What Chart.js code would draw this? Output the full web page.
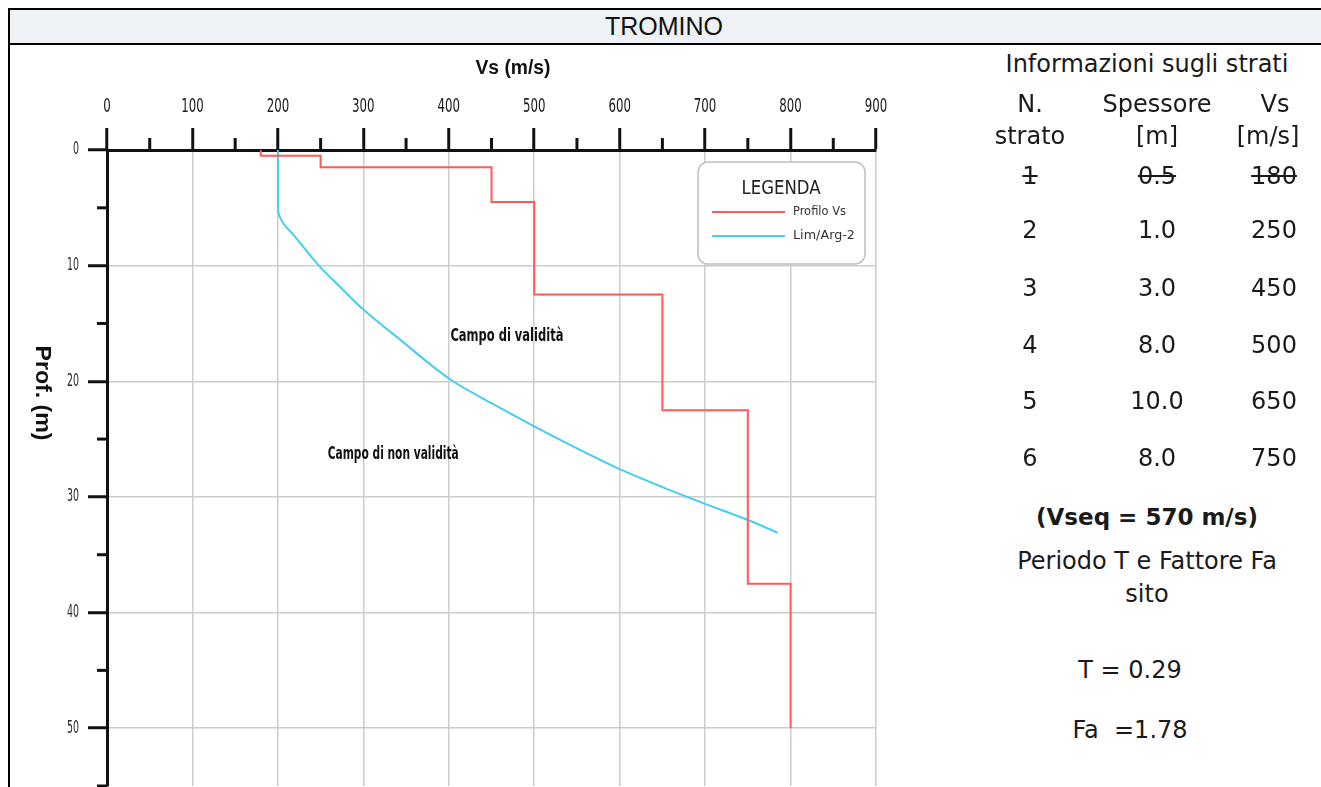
<!DOCTYPE html>
<html>
<head>
<meta charset="utf-8">
<script src="https://cdn.jsdelivr.net/npm/chart.js@4.4.1/dist/chart.umd.min.js"></script>
<style>
  html, body { margin: 0; padding: 0; background: #fff; }
  body { width: 1321px; height: 787px; position: relative; overflow: hidden; }
  .line { position: absolute; background: #000; }
  #header { position: absolute; left: 10px; top: 10px; width: 1311px; height: 33px; background: #eef2f6; }
  #header span { position: absolute; left: 0; width: 1308px; top: 2px; text-align: center;
    font-family: "Liberation Sans", sans-serif; font-size: 25px; color: #111; }
  #chart-box { position: absolute; left: 10px; top: 45px; width: 885px; height: 742px; overflow: hidden; }
  .txt { position: absolute; width: 340px; text-align: center; font-family: "DejaVu Sans", sans-serif;
    font-size: 24px; color: #1a1a1a; line-height: 28px; white-space: pre; }
  .strike { text-decoration: line-through; }
  .bold { font-weight: bold; font-size: 23px; }
</style>
</head>
<body>
<div class="line" style="left:8px; top:8px; width:1313px; height:2px;"></div>
<div class="line" style="left:8px; top:8px; width:2px; height:779px;"></div>
<div id="header"><span>TROMINO</span></div>
<div class="line" style="left:8px; top:43px; width:1313px; height:2px;"></div>

<div id="chart-box"><canvas id="chart" width="885" height="742"></canvas></div>
<div id="info"></div>

<script>
// Layer table (Informazioni sugli strati)
const layerNumbers = [1, 2, 3, 4, 5, 6];
const layerThickness = [0.5, 1.0, 3.0, 8.0, 10.0, 8.0];
const layerVs = [180, 250, 450, 500, 650, 750];
const excludedLayers = [1];

// Profilo Vs as drawn in the chart: velocity of each step and its depth limits
const profileVs = [180, 250, 450, 500, 650, 750, 800];
const profileDepths = [0, 0.5, 1.5, 4.5, 12.5, 22.5, 37.5, 50];

// Lim/Arg-2 curve
const limVs = [200, 200, 205, 219, 248, 275, 300, 343, 405, 450, 500, 550, 600, 650, 700, 750, 785];
const limDepth = [0, 5, 6.2, 7.4, 10, 12.0, 13.8, 16.4, 20, 21.9, 23.9, 25.8, 27.6, 29.15, 30.6, 32, 33.1];

// Axes
const xMin = 0, xMax = 900, xStep = 50, xLabelStep = 100;
const yMin = 0, yMax = 55, yStep = 5, yLabelStep = 10;

const vseq = 570;
const periodT = "0.29";
const factorFa = "1.78";

const RED = "#ff5a5a";
const BLUE = "#45cdf2";
const NARROW = "'DejaVu Sans Condensed', 'DejaVu Sans', sans-serif";

// Build the step profile
const profilePoints = [];
profileVs.forEach((vs, i) => {
  profilePoints.push({ x: vs, y: profileDepths[i] });
  profilePoints.push({ x: vs, y: profileDepths[i + 1] });
});

const limPoints = limVs.map((v, i) => ({ x: v, y: limDepth[i] }));

// Right hand info column
const infoEl = document.getElementById("info");
function addText(cx, cy, text, cls) {
  const d = document.createElement("div");
  d.className = "txt" + (cls ? " " + cls : "");
  d.style.left = cx - 170 + "px";
  d.style.top = cy - 14 + "px";
  d.textContent = text;
  infoEl.appendChild(d);
}
const colX = [1030, 1157, 1274];
const rowY = [176, 230, 288, 345, 401, 458];
addText(1147, 64, "Informazioni sugli strati");
addText(colX[0], 104, "N.");
addText(colX[0], 136, "strato");
addText(colX[1], 104, "Spessore");
addText(colX[1], 136, "[m]");
addText(colX[2] + 1, 104, "Vs");
addText(colX[2] - 6, 136, "[m/s]");
layerNumbers.forEach((n, i) => {
  const cls = excludedLayers.includes(n) ? "strike" : "";
  addText(colX[0], rowY[i], String(n), cls);
  addText(colX[1], rowY[i], layerThickness[i].toFixed(1), cls);
  addText(colX[2], rowY[i], String(layerVs[i]), cls);
});
addText(1147, 517, `(Vseq = ${vseq} m/s)`, "bold");
addText(1147, 561, "Periodo T e Fattore Fa");
addText(1147, 594, "sito");
addText(1130, 670, `T = ${periodT}`);
addText(1130, 730, `Fa  =${factorFa}`);

// draws text squeezed to a given width (condensed look)
function fitText(ctx, text, x, y, width) {
  const w = ctx.measureText(text).width;
  ctx.save();
  ctx.translate(x, y);
  ctx.scale(w > 0 ? width / w : 1, 1);
  ctx.fillText(text, 0, 0);
  ctx.restore();
}

// Extra drawing: minor ticks, tick labels, axis titles, notes and legend
const decorPlugin = {
  id: "decor",
  afterDraw(chart) {
    const { ctx, chartArea, scales } = chart;
    const xs = scales.x, ys = scales.y;
    ctx.save();

    // minor ticks
    ctx.strokeStyle = "#111";
    ctx.lineWidth = 3;
    xs.ticks.forEach((t) => {
      if (t.value % xLabelStep !== 0) {
        const px = xs.getPixelForValue(t.value);
        ctx.beginPath();
        ctx.moveTo(px, chartArea.top);
        ctx.lineTo(px, chartArea.top - 12);
        ctx.stroke();
      }
    });
    ys.ticks.forEach((t) => {
      if (t.value % yLabelStep !== 0) {
        const py = ys.getPixelForValue(t.value);
        ctx.beginPath();
        ctx.moveTo(chartArea.left, py);
        ctx.lineTo(chartArea.left - 10, py);
        ctx.stroke();
      }
    });

    // tick labels
    ctx.textBaseline = "middle";
    ctx.textAlign = "center";
    ctx.fillStyle = "#1a1a1a";
    ctx.font = "19px " + NARROW;
    xs.ticks.forEach((t) => {
      if (t.value % xLabelStep === 0) {
        const s = String(t.value);
        fitText(ctx, s, xs.getPixelForValue(t.value), chartArea.top - 43, 7.5 * s.length);
      }
    });
    ctx.textAlign = "right";
    ctx.fillStyle = "#2a2a2a";
    ctx.font = "17px " + NARROW;
    ys.ticks.forEach((t) => {
      if (t.value % yLabelStep === 0 && t.value <= 50) {
        const s = String(t.value);
        fitText(ctx, s, chartArea.left - 28, ys.getPixelForValue(t.value), 6 * s.length);
      }
    });

    // axis titles
    ctx.fillStyle = "#111";
    ctx.textAlign = "center";
    ctx.font = "bold 21px 'Liberation Sans', sans-serif";
    fitText(ctx, "Vs (m/s)", 503, 23, 75);
    ctx.save();
    ctx.translate(32, 393 - 45);
    ctx.rotate(Math.PI / 2);
    ctx.font = "bold 22px 'Liberation Sans', sans-serif";
    fitText(ctx, "Prof. (m)", 0, 0, 95);
    ctx.restore();

    // notes
    ctx.font = "bold 17px " + NARROW;
    fitText(ctx, "Campo di validità", xs.getPixelForValue(468), ys.getPixelForValue(16.1), 113);
    fitText(ctx, "Campo di non validità", xs.getPixelForValue(335), ys.getPixelForValue(26.3), 131);

    // legend
    const bw = 167, bh = 102;
    const bx = chartArea.right - 11 - bw, by = chartArea.top + 12;
    ctx.beginPath();
    ctx.roundRect(bx, by, bw, bh, 10);
    ctx.fillStyle = "#fff";
    ctx.fill();
    ctx.strokeStyle = "#bdbdbd";
    ctx.lineWidth = 1.5;
    ctx.stroke();
    ctx.fillStyle = "#222";
    ctx.font = "19px " + NARROW;
    fitText(ctx, "LEGENDA", bx + 83, by + 27, 79);
    ctx.font = "12.5px " + NARROW;
    ctx.textAlign = "left";
    const legendWidths = [53, 62];
    chart.data.datasets.forEach((ds, i) => {
      const ly = by + 50 + i * 24;
      ctx.strokeStyle = ds.borderColor;
      ctx.lineWidth = 2;
      ctx.beginPath();
      ctx.moveTo(bx + 14, ly);
      ctx.lineTo(bx + 87, ly);
      ctx.stroke();
      ctx.fillStyle = "#333";
      fitText(ctx, ds.label, bx + 95, ly, legendWidths[i]);
    });
    ctx.restore();
  },
};

new Chart(document.getElementById("chart"), {
  type: "line",
  data: {
    datasets: [
      {
        label: "Profilo Vs",
        data: profilePoints,
        borderColor: RED,
        borderWidth: 2,
        pointRadius: 0,
        tension: 0,
      },
      {
        label: "Lim/Arg-2",
        data: limPoints,
        indexAxis: "y",
        borderColor: BLUE,
        borderWidth: 2,
        pointRadius: 0,
        cubicInterpolationMode: "monotone",
      },
    ],
  },
  options: {
    responsive: false,
    animation: false,
    layout: { padding: { top: 0, left: 0, right: 19, bottom: 1 } },
    plugins: { legend: { display: false }, tooltip: { enabled: false } },
    scales: {
      x: {
        type: "linear",
        position: "top",
        min: xMin,
        max: xMax,
        ticks: { stepSize: xStep, autoSkip: false, maxRotation: 0, display: false },
        grid: {
          color: (c) => (c.tick && c.tick.value % xLabelStep === 0 ? "#cccccc" : "transparent"),
          lineWidth: 1.5,
          tickLength: 22,
          tickWidth: 3,
          tickColor: (c) => (c.tick && c.tick.value % xLabelStep === 0 ? "#111" : "transparent"),
        },
        border: { color: "#111", width: 3 },
        afterFit: (s) => { s.height = 105; },
      },
      y: {
        type: "linear",
        reverse: true,
        min: yMin,
        max: yMax,
        ticks: { stepSize: yStep, autoSkip: false, display: false },
        grid: {
          color: (c) => (c.tick && c.tick.value % yLabelStep === 0 ? "#cccccc" : "transparent"),
          lineWidth: 1.5,
          tickLength: 19,
          tickWidth: 3,
          tickColor: (c) => (c.tick && c.tick.value % yLabelStep === 0 ? "#111" : "transparent"),
        },
        border: { color: "#111", width: 3 },
        afterFit: (s) => { s.width = 97; },
      },
    },
  },
  plugins: [decorPlugin],
});
</script>
</body>
</html>
